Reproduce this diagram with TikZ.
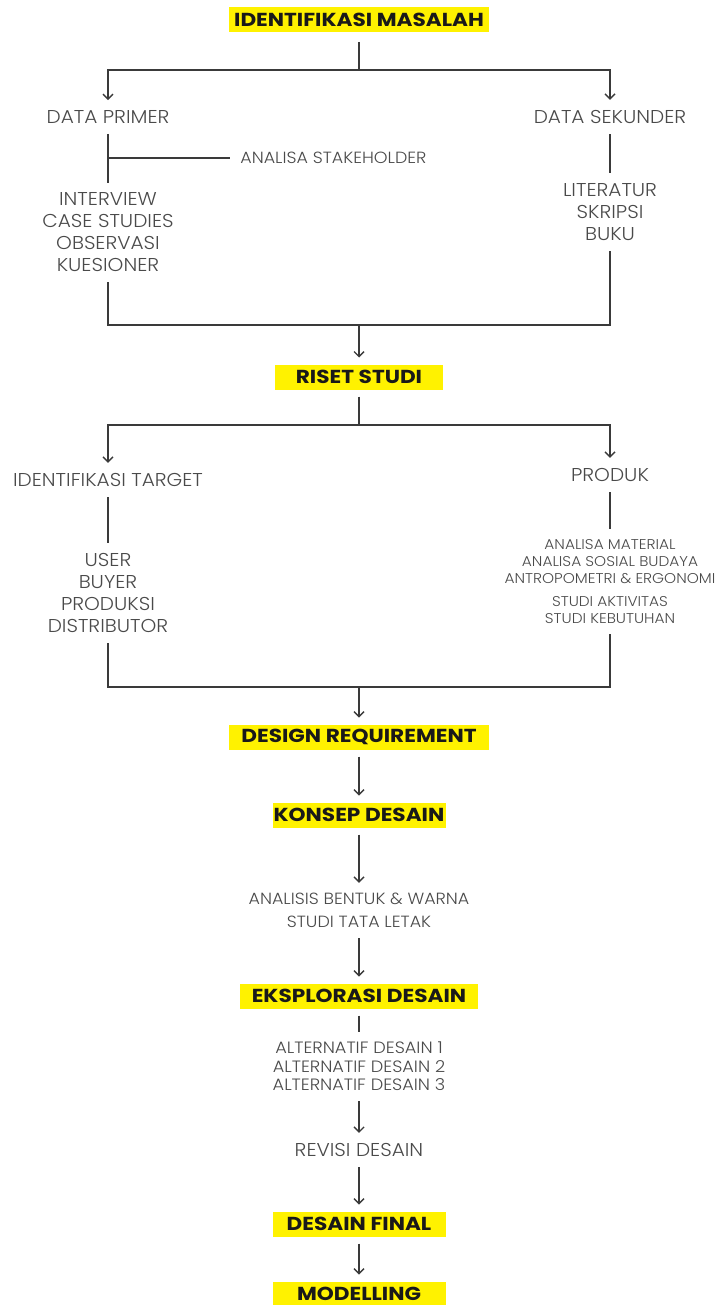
\documentclass[tikz,border=0pt]{standalone}
\usepackage{fontspec}
\setmainfont{Poppins}
\newfontfamily\headfont{Poppins}[FakeStretch=1.15]
\newfontfamily\thinfont{Poppins Light}[FakeStretch=1.08]
\usetikzlibrary{arrows.meta}

\definecolor{boxyellow}{HTML}{FFF200}
\definecolor{txtgray}{HTML}{4A4A4A}
\definecolor{linegray}{HTML}{3A3A3A}

\tikzset{
  stage/.style={fill=boxyellow, font=\headfont\bfseries\fontsize{9.4}{11}\selectfont, text=black!90,
    minimum height=12.5pt, inner sep=0pt, outer sep=3.5pt},
  item/.style={font=\thinfont\fontsize{9.3}{11}\selectfont, text=txtgray, align=center,
    inner xsep=0pt, inner ysep=5pt},
  smallitem/.style={item, font=\thinfont\fontsize{7.1}{8.6}\selectfont},
  link/.style={draw=linegray, line width=0.7pt},
  flow/.style={link, -{Straight Barb[length=2.5pt,width=5pt]}},
}

\begin{document}
\begin{tikzpicture}[x=0.5pt, y=-0.5pt]
    \useasboundingbox (0,0) rectangle (718,1305);

    % Main stages
    \node[stage, minimum width=130pt] (masalah) at (359,19.5) {IDENTIFIKASI MASALAH};
    \node[stage, minimum width=84pt] (riset) at (359,377) {RISET STUDI};
    \node[stage, minimum width=130pt] (requirement) at (359,737) {DESIGN REQUIREMENT};
    \node[stage, minimum width=86.5pt] (konsep) at (359,815) {KONSEP DESAIN};
    \node[stage, minimum width=119pt] (eksplorasi) at (359,996) {EKSPLORASI DESAIN};
    \node[stage, minimum width=86.5pt] (final) at (359,1224) {DESAIN FINAL};
    \node[stage, minimum width=86.5pt] (modelling) at (359,1294) {MODELLING};

    % Data sources
    \node[item] (primer) at (108,117) {DATA PRIMER};
    \node[item] (sekunder) at (610,117) {DATA SEKUNDER};
    \node[smallitem, font=\thinfont\fontsize{8.1}{9.5}\selectfont, anchor=west, inner xsep=5pt]
      (stakeholder) at (230,158) {ANALISA STAKEHOLDER};
    \node[item] (metode) at (108,232.5) {INTERVIEW\\CASE STUDIES\\OBSERVASI\\KUESIONER};
    \node[item] (pustaka) at (610,212) {LITERATUR\\SKRIPSI\\BUKU};

    % Research branches
    \node[item] (target) at (108,480) {IDENTIFIKASI TARGET};
    \node[item] (produk) at (610,475) {PRODUK};
    \node[item] (pengguna) at (108,593) {USER\\BUYER\\PRODUKSI\\DISTRIBUTOR};
    \node[smallitem] (analisa) at (610,581.5)
      {ANALISA MATERIAL\\ANALISA SOSIAL BUDAYA\\ANTROPOMETRI \& ERGONOMI\\[3pt]STUDI AKTIVITAS\\STUDI KEBUTUHAN};

    % Design steps
    \node[smallitem, font=\thinfont\fontsize{8.1}{11.5}\selectfont] (bentuk) at (359,910.5)
      {ANALISIS BENTUK \& WARNA\\STUDI TATA LETAK};
    \node[smallitem, font=\thinfont\fontsize{8.2}{9.3}\selectfont] (alternatif) at (359,1066.5)
      {ALTERNATIF DESAIN 1\\ALTERNATIF DESAIN 2\\ALTERNATIF DESAIN 3};
    \node[item] (revisi) at (359,1150) {REVISI DESAIN};

    % Define some coordinates
    \coordinate (split1) at (359,70);
    \coordinate (split1l) at (108,70);
    \coordinate (split1r) at (610,70);
    \coordinate (stake) at (108,158);
    \coordinate (merge1) at (359,325);
    \coordinate (merge1l) at (108,325);
    \coordinate (merge1r) at (610,325);
    \coordinate (split2) at (359,425);
    \coordinate (split2l) at (108,425);
    \coordinate (split2r) at (610,425);
    \coordinate (merge2) at (359,687);
    \coordinate (merge2l) at (108,687);
    \coordinate (merge2r) at (610,687);

    % First part
    \draw[link, shorten <=1.5pt] (masalah) -- (split1);
    \draw[flow] (split1) -- (split1l) -- (primer);
    \draw[flow] (split1) -- (split1r) -- (sekunder);
    \draw[link] (primer) -- (metode);
    \draw[link] (stake) -- (stakeholder);
    \draw[link] (sekunder) -- (pustaka);
    \draw[link] (metode) -- (merge1l) -- (merge1r) -- (pustaka);
    \draw[flow] (merge1) -- (riset);

    % Second part
    \draw[link] (riset) -- (split2);
    \draw[flow] (split2) -- (split2l) -- (target);
    \draw[flow] (split2) -- (split2r) -- (produk);
    \draw[link] (target) -- (pengguna);
    \draw[link] (produk) -- (analisa);
    \draw[link] (pengguna) -- (merge2l) -- (merge2r) -- (analisa);
    \draw[flow] (merge2) -- (requirement);

    % Design chain
    \draw[flow] (requirement) -- (konsep);
    \draw[flow] (konsep) -- (bentuk);
    \draw[flow] (bentuk) -- (eksplorasi);
    \draw[link] (eksplorasi) -- (alternatif);
    \draw[flow] (alternatif) -- (revisi);
    \draw[flow] (revisi) -- (final);
    \draw[flow] (final) -- (modelling);
\end{tikzpicture}
\end{document}
